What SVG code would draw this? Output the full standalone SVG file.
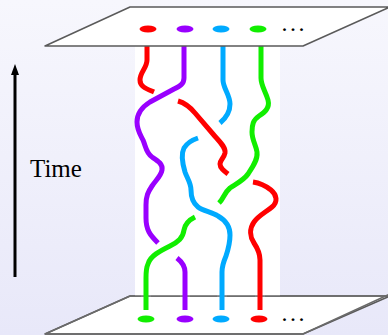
<svg xmlns="http://www.w3.org/2000/svg" width="388" height="335" viewBox="0 0 388 335">
<defs>
<linearGradient id="bg" x1="0" y1="0" x2="0" y2="1">
<stop offset="0" stop-color="#f7f7fd"/>
<stop offset="1" stop-color="#e8e8f9"/>
</linearGradient>
</defs>
<style>
.plane{fill:#ffffff;stroke:#5a5a5a;stroke-width:1.5;stroke-linejoin:round}
.edge{stroke:#6a6a6a;stroke-width:1.5;fill:none}
.s{fill:none;stroke-width:5;stroke-linecap:butt;stroke-linejoin:round}
.r{stroke:#ff0000}.p{stroke:#9900ff}.b{stroke:#00aaff}.g{stroke:#11ee00}
.dots{font-family:"Liberation Serif",serif;font-size:24px;letter-spacing:2.5px;fill:#000}
</style>
<rect x="0" y="0" width="388" height="335" fill="url(#bg)"/>
<g id="bottom-plane">
<polygon class="plane" points="130,296 390,296 303,334 45,334" stroke="none"/>
<polyline class="edge" points="130,296 45,334 303,334 390,294"/>
<path class="edge" d="M130,296H141M151,296H180M190,296H217M227,296H255M265,296H390"/>
<ellipse cx="146" cy="319" rx="8.5" ry="3.5" fill="#11ee00"/>
<ellipse cx="185" cy="319" rx="8.5" ry="3.5" fill="#9900ff"/>
<ellipse cx="221" cy="319" rx="8.5" ry="3.5" fill="#00aaff"/>
<ellipse cx="259" cy="319" rx="8.5" ry="3.5" fill="#ff0000"/>
<text class="dots" x="281.5" y="321">...</text>
</g>
<rect x="135" y="46" width="145" height="249.2" fill="#ffffff"/>
<g id="strands">
<path class="s r" d="M147,46V60C147,68 140,72 140,80C140,87 147,89 154,92"/>
<path class="s p" d="M184,46V78C184,84 180,86 174,89L150,102C142,107 137,113 137,122C137,130 140,134 143,140C146,147 146,153 152,157C158,161 163,164 162,170C161,176 156,180 152,186C148,192 146,196 146,205V218C146,230 150,235 158,243"/>
<path class="s p" d="M177,258C182,262 185,266 185,272V310"/>
<path class="s r" d="M178,101C185,103 190,107 195,113L213,134C219,141 226,147 225,153C224,158 220,160 220,164C220,168 224,171 228,174"/>
<path class="s b" d="M223,46V80C223,88 230,95 230,104C230,112 226,118 220,123"/>
<path class="s b" d="M198,138C192,140 187,143 184,148C181,154 182,162 185,172C187,178 191,183 191,190C191,197 193,203 198,207C203,211 212,212 218,216C225,220 230,226 230,235C230,243 228,250 226,256C223,263 222,266 222,272V310"/>
<path class="s g" d="M261,46V78C261,86 266,92 268,100C270,108 265,112 259,116C253,120 252,125 252,132C252,140 256,145 257,152C258,160 252,168 248,174C244,180 236,184 230,188C224,193 224,198 219,203"/>
<path class="s g" d="M195,217C189,220 185,224 184,230C183,238 178,242 170,246C160,251 150,256 148,264C146,268 146,272 146,278V310"/>
<path class="s r" d="M253,182C260,183 266,186 271,190C277,195 278,202 272,207C266,212 258,216 254,222C249,229 250,237 254,243C258,249 260,253 260,260V310"/>
</g>
<g id="top-plane">
<polygon class="plane" points="45,46 130,7 390,7 303,46"/>
<ellipse cx="148" cy="29" rx="8.5" ry="3.5" fill="#ff0000"/>
<ellipse cx="185" cy="29" rx="8.5" ry="3.5" fill="#9900ff"/>
<ellipse cx="221" cy="29" rx="8.5" ry="3.5" fill="#00aaff"/>
<ellipse cx="258" cy="29" rx="8.5" ry="3.5" fill="#11ee00"/>
<text class="dots" x="281.5" y="31">...</text>
</g>
<g id="time-axis">
<line x1="15" y1="277" x2="15" y2="72" stroke="#000" stroke-width="3"/>
<polygon points="15,64 11,75 19,75" fill="#000"/>
<text x="30" y="177" font-family="'Liberation Serif',serif" font-size="25" fill="#000">Time</text>
</g>
</svg>
